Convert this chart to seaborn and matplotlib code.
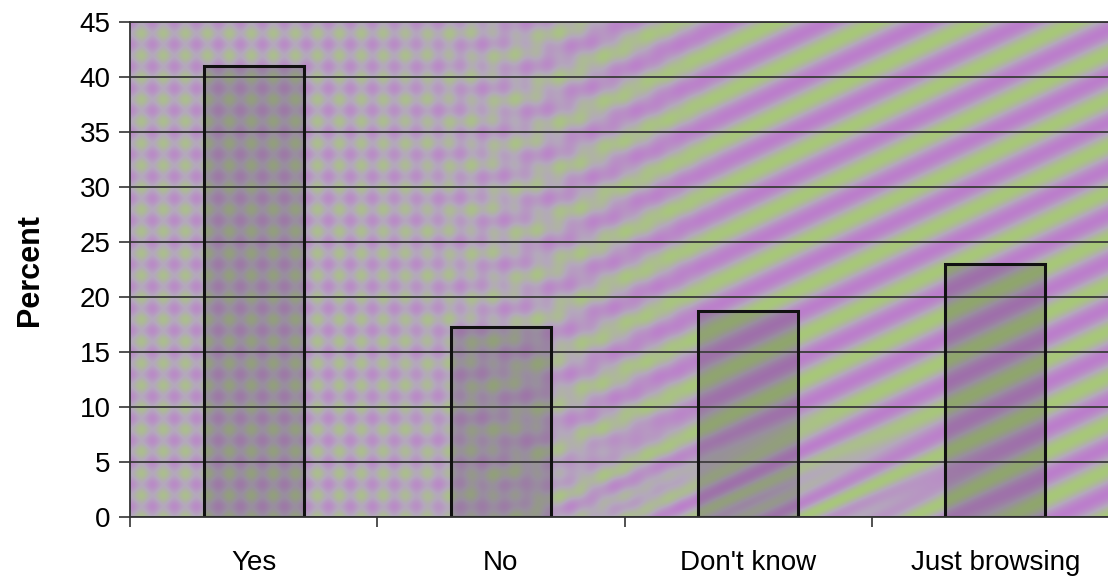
import numpy as np
import matplotlib
matplotlib.use("Agg")
import matplotlib.pyplot as plt
from matplotlib.ticker import FixedLocator, NullFormatter
import pandas as pd
import seaborn as sns

# Survey responses (percent of respondents)
categories = ["Yes", "No", "Don't know", "Just browsing"]
percents = [41.0, 17.3, 18.7, 23.0]
y_ticks = [0, 5, 10, 15, 20, 25, 30, 35, 40, 45]

df = pd.DataFrame({"answer": categories, "percent": percents})

sns.set_theme(style="white")
plt.rcParams["font.family"] = ["Liberation Sans", "DejaVu Sans"]

W, H = 1108, 578
fig = plt.figure(figsize=(W / 100, H / 100), dpi=100)
fig.patch.set_facecolor("white")
ax = fig.add_axes([130 / W, (H - 517) / H, (1119 - 130) / W, (517 - 22) / H])

# Purple / green interference texture used as the plot-area fill
pw, ph = 990, 495
X, Y = np.meshgrid(np.arange(pw), np.arange(ph))
a = np.deg2rad(25)
stripes = np.cos(2 * np.pi * (X * np.sin(a) + Y * np.cos(a)) / 42.0)
fine = np.cos(2 * np.pi * (X * np.sin(a) + Y * np.cos(a)) / 24.0)
checker = np.cos(2 * np.pi * (X + Y) / 44.0) * np.cos(2 * np.pi * (X - Y) / 44.0)
w = np.clip((X - 200) / 450.0, 0, 1)
w = w * w * (3 - 2 * w)
# bottom band of the striped area has a tighter period
v = np.clip((Y - 380) / 100.0, 0, 1) * np.clip((X - 250) / 200.0, 0, 1) * np.clip((900 - X) / 200.0, 0, 1)
striped = (1 - 0.6 * v) * stripes + 0.6 * v * fine
t = (1 - w) * 0.55 * checker + w * 0.8 * striped
mid = np.array([180, 168, 188]) / 255
purple = np.array([190, 116, 208]) / 255
green = np.array([164, 208, 104]) / 255
tp = np.clip(t, 0, 1)[..., None]
tg = np.clip(-t, 0, 1)[..., None]
tex = mid + tp * (purple - mid) + tg * (green - mid)
ax.imshow(np.clip(tex, 0, 1), extent=(-0.5, 3.5, 0, 45), aspect="auto",
          zorder=0, interpolation="bilinear")

sns.barplot(data=df, x="answer", y="percent", width=0.405, ax=ax,
            color="#555055", edgecolor="#111111", linewidth=2.2, zorder=2)
for p in ax.patches:
    p.set_facecolor((0.30, 0.28, 0.30, 0.26))

ax.set_xlim(-0.5, 3.5)
ax.set_ylim(0, 45)
ax.set_yticks(y_ticks)
ax.set_axisbelow(True)
ax.yaxis.grid(True, color="#3a3a3a", linewidth=1.3)
ax.xaxis.grid(False)

for side in ["left", "bottom", "top"]:
    ax.spines[side].set_visible(True)
    ax.spines[side].set_color("#333333")
    ax.spines[side].set_linewidth(1.3)
ax.spines["right"].set_visible(False)

ax.tick_params(axis="y", which="major", left=True, length=8, width=1.2,
               color="#333333", labelsize=20, pad=6, labelcolor="black")
ax.tick_params(axis="x", which="major", bottom=False, length=0,
               labelsize=20, pad=24, labelcolor="black")
ax.xaxis.set_minor_locator(FixedLocator([-0.5, 0.5, 1.5, 2.5, 3.5]))
ax.xaxis.set_minor_formatter(NullFormatter())
ax.tick_params(axis="x", which="minor", bottom=True, length=7, width=1.2,
               color="#333333")

ax.set_xlabel("")
ax.set_ylabel("")
fig.text(30 / W, 1 - 270 / H, "Percent", rotation=90, ha="center", va="center",
         fontsize=22, fontweight="bold", color="black",
         family=["Liberation Sans Narrow", "Liberation Sans", "DejaVu Sans"])

fig.savefig("out.png", dpi=100, facecolor="white")
